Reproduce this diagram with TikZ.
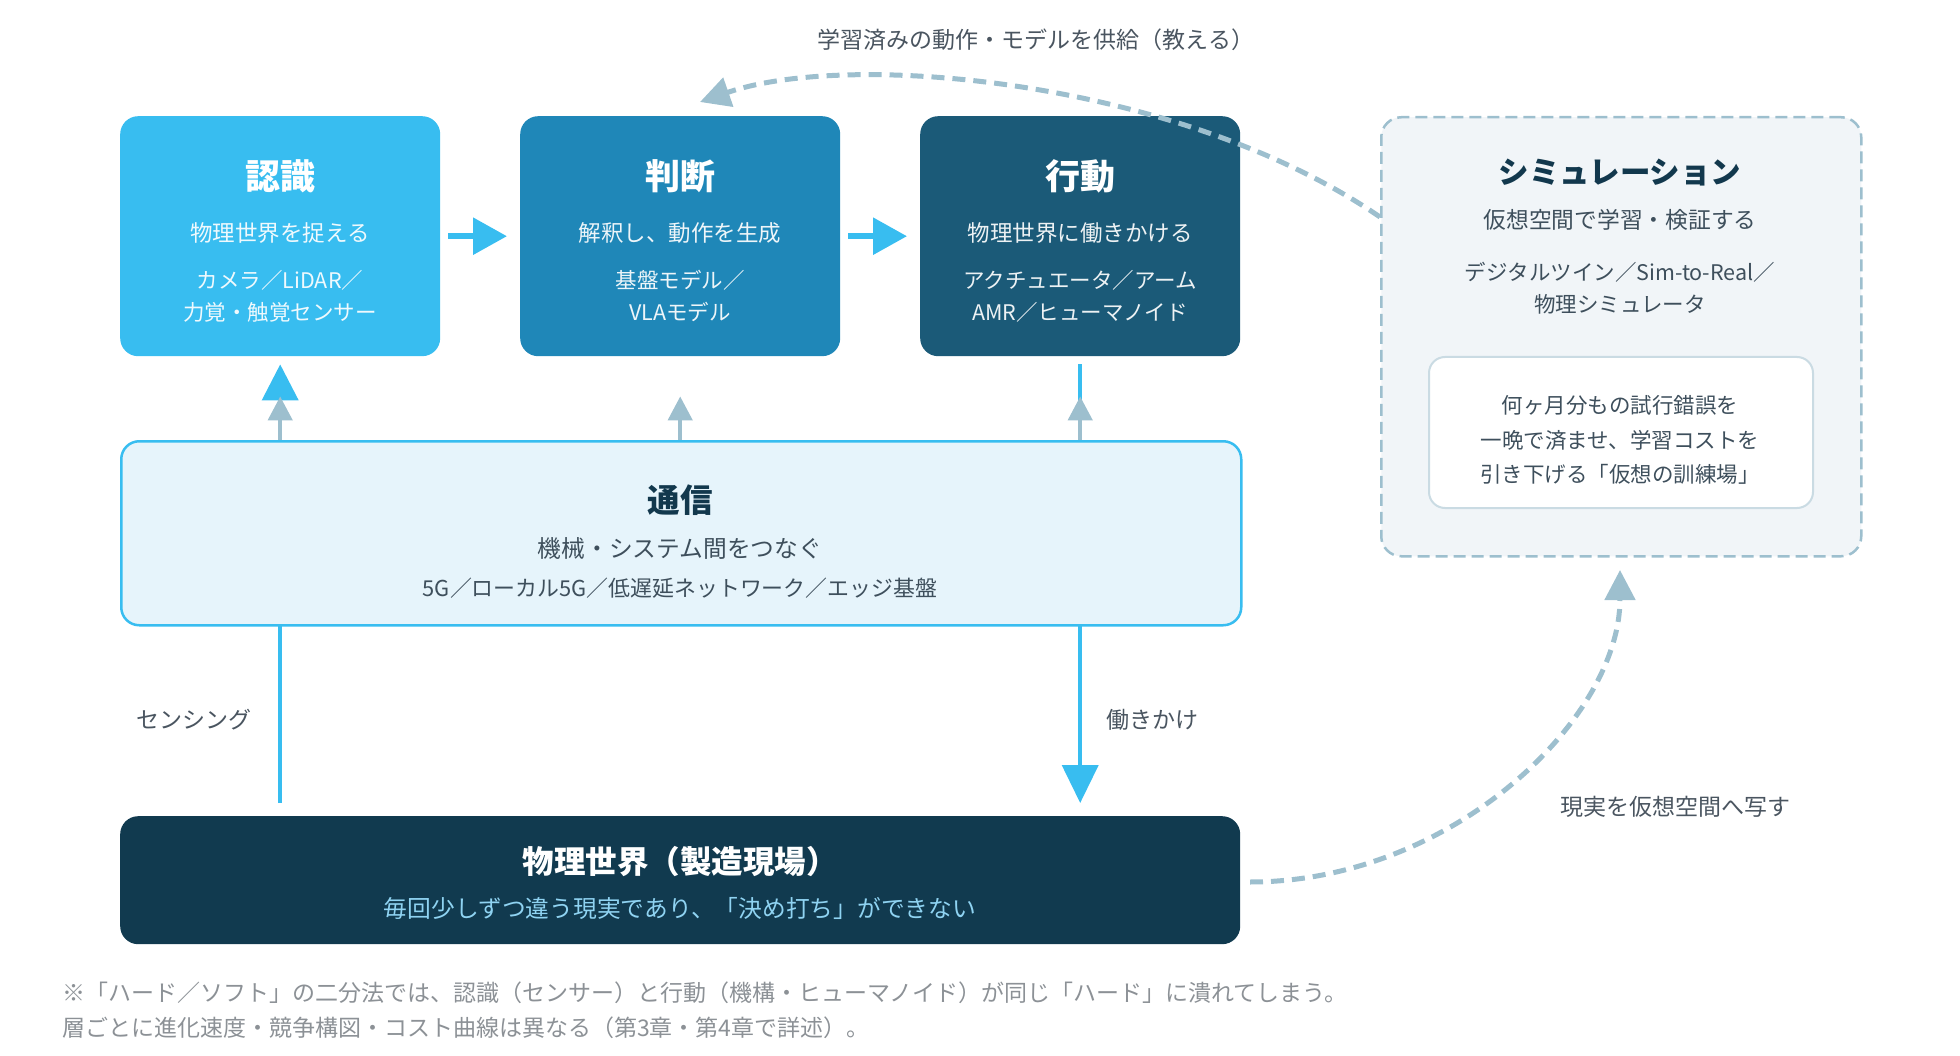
\documentclass[tikz,border=0pt]{standalone}
\usepackage{fontspec}
\setmainfont{Noto Sans CJK JP}
\usetikzlibrary{arrows.meta}
\definecolor{cA}{HTML}{38BDF0}
\definecolor{cB}{HTML}{1F87B8}
\definecolor{cC}{HTML}{1B5A78}
\definecolor{cD}{HTML}{113A4F}
\definecolor{tsuFill}{HTML}{E6F4FB}
\definecolor{simFill}{HTML}{F1F5F8}
\definecolor{grayBlue}{HTML}{9DBFCE}
\definecolor{innerBorder}{HTML}{CADBE3}
\definecolor{darkText}{HTML}{12384D}
\definecolor{midText}{HTML}{3E4F5C}
\definecolor{labelText}{HTML}{4A5560}
\definecolor{noteText}{HTML}{8C9196}
\definecolor{physSub}{HTML}{8FD3F2}
\newcommand{\fs}[1]{\fontsize{#1}{1.5\dimexpr #1pt\relax}\selectfont}
\begin{document}
\begin{tikzpicture}[x=1pt,y=-1pt,
  lay/.style={rounded corners=18pt, minimum width=320pt, minimum height=240pt, anchor=north west, inner sep=0pt, draw=none},
  txt/.style={inner sep=0pt, anchor=center, align=center},
  ttl/.style={txt, font=\fs{35}\bfseries, text=white},
  sub/.style={txt, font=\fs{22.5}, text=white, text opacity=0.92},
  tech/.style={txt, font=\fs{21.5}, text=white, text opacity=0.92},
  harrow/.style={draw=cA, line width=6pt, -{Triangle[length=34pt,width=36pt]}},
  bline/.style={draw=cA, line width=4pt},
  garrow/.style={draw=grayBlue, line width=4.5pt, -{Triangle[length=24pt,width=24pt]}},
  dcurve/.style={draw=grayBlue, line width=5pt, dash pattern=on 13pt off 8pt, -{Triangle[length=30pt,width=30pt]}},
  lbl/.style={txt, font=\fs{23}, text=labelText}
]
\useasboundingbox (0,0) rectangle (1960,1056);

% top layer boxes
\node[lay, fill=cA] (nin) at (120,116) {};
\node[lay, fill=cB] (han) at (520,116) {};
\node[lay, fill=cC] (kou) at (920,116) {};

\node[ttl] (ninT) at (280,176) {認識};
\node[sub] (ninS) at (280,233) {物理世界を捉える};
\node[tech] (ninX) at (280,296) {カメラ／LiDAR／\\力覚・触覚センサー};

\node[ttl] (hanT) at (680,176) {判断};
\node[sub] (hanS) at (680,233) {解釈し、動作を生成};
\node[tech] (hanX) at (680,296) {基盤モデル／\\VLAモデル};

\node[ttl] (kouT) at (1080,176) {行動};
\node[sub] (kouS) at (1080,233) {物理世界に働きかける};
\node[tech] (kouX) at (1080,296) {アクチュエータ／アーム\\AMR／ヒューマノイド};

\draw[harrow, shorten <=8pt, shorten >=13pt] (nin.east) -- (han.west);
\draw[harrow, shorten <=8pt, shorten >=13pt] (han.east) -- (kou.west);

% physical world
\node[lay, fill=cD, minimum width=1120pt, minimum height=128pt] (phys) at (120,816) {};
\node[txt, font=\fs{31.5}\bfseries, text=white] (physT) at (680,862) {物理世界（製造現場）};
\node[txt, font=\fs{23.75}, text=physSub] (physS) at (680,908) {毎回少しずつ違う現実であり、「決め打ち」ができない};

% blue vertical connectors (behind communication layer)
\draw[bline, -{Triangle[length=36pt,width=36pt]}, shorten <=13pt, shorten >=8pt] (nin.south |- phys.north) -- (nin.south);
\draw[bline, -{Triangle[length=38pt,width=36pt]}, shorten <=8pt, shorten >=13pt] (kou.south) -- (kou.south |- phys.north);

% communication layer
\node[lay, fill=tsuFill, draw=cA, line width=2.5pt, minimum width=1120pt, minimum height=184pt] (tsu) at (120,440) {};
\node[txt, font=\fs{32.5}\bfseries, text=darkText] (tsuT) at (680,500) {通信};
\node[txt, font=\fs{23.75}, text=midText] (tsuS) at (680,548) {機械・システム間をつなぐ};
\node[txt, font=\fs{21.9}, text=midText] (tsuX) at (680,588) {5G／ローカル5G／低遅延ネットワーク／エッジ基盤};

% gray connectors from communication layer
\draw[garrow, shorten >=40pt] (nin.south |- tsu.north) -- (nin.south);
\draw[garrow, shorten >=40pt] (han.south |- tsu.north) -- (han.south);
\draw[garrow, shorten >=40pt] (kou.south |- tsu.north) -- (kou.south);

\node[lbl] (sensing) at (194,720) {センシング};
\node[lbl] (hatarakikake) at (1152,720) {働きかけ};

% simulation
\node[lay, fill=simFill, draw=grayBlue, line width=2.5pt, dash pattern=on 12pt off 6pt, rounded corners=20pt, minimum width=480pt, minimum height=439pt] (sim) at (1380,116) {};
\node[txt, font=\fs{30.5}\bfseries, text=darkText] (simT) at (1620,173) {シミュレーション};
\node[txt, font=\fs{22.75}, text=midText] (simS) at (1620,220) {仮想空間で学習・検証する};
\node[txt, font=\fs{21.5}, text=midText] (simX) at (1620,288) {デジタルツイン／Sim-to-Real／\\物理シミュレータ};
\node[lay, fill=white, draw=innerBorder, line width=2pt, rounded corners=16pt, minimum width=384pt, minimum height=151pt] (inner) at (1428,356) {};
\node[txt, font=\fs{21.5}, text=midText, align=center] (innerX) at (1620,440) {何ヶ月分もの試行錯誤を\\[2pt]一晩で済ませ、学習コストを\\[2pt]引き下げる「仮想の訓練場」};

% feedback curves
\coordinate (teachEnd) at (700,102);
\coordinate (mirrorEnd) at (1620,570);
\draw[dcurve] (sim.west |- 0,217) .. controls (1180,80) and (850,50) .. (teachEnd);
\draw[dcurve] (1250,882) .. controls (1450,882) and (1620,720) .. (mirrorEnd);
\node[lbl] (teachL) at (1036,40) {学習済みの動作・モデルを供給（教える）};
\node[lbl] (mirrorL) at (1675,807) {現実を仮想空間へ写す};

% footnote
\node[txt, anchor=west, align=left, font=\fs{23}, text=noteText] (note1) at (62,993) {※「ハード／ソフト」の二分法では、認識（センサー）と行動（機構・ヒューマノイド）が同じ「ハード」に潰れてしまう。};
\node[txt, anchor=west, align=left, font=\fs{23}, text=noteText] (note2) at (62,1028) {層ごとに進化速度・競争構図・コスト曲線は異なる（第3章・第4章で詳述）。};
\end{tikzpicture}
\end{document}
